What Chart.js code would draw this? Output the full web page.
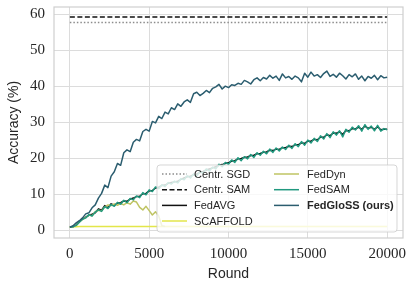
<!DOCTYPE html>
<html>
<head>
<meta charset="utf-8">
<script src="https://cdn.jsdelivr.net/npm/chart.js@4.4.1/dist/chart.umd.min.js"></script>
<style>
  html, body { margin: 0; padding: 0; background: #fff; }
  #wrap { width: 415px; height: 289px; }
</style>
</head>
<body>
<div id="wrap"><canvas id="accChart"></canvas></div>
<script>
// rounds are sampled every 200 communication rounds
const ROUND_STEP = 200;
const xTicks = [0, 5000, 10000, 15000, 20000];
const yTicks = [0, 10, 20, 30, 40, 50, 60];

// centralized baselines (flat reference lines)
const centrRounds = [0, 20000];
const centrSgdAcc = [57.7, 57.7];
const centrSamAcc = [59.2, 59.2];

const fedglossAcc = [
  0.8, 1.2, 2.0, 2.6, 3.4, 4.5, 4.8, 6.2, 7.0, 8.9,
  10.2, 12.5, 11.8, 15.0, 16.2, 18.5, 18.0, 21.5, 22.3, 21.8,
  24.4, 25.2, 24.8, 27.4, 28.0, 27.5, 30.2, 29.8, 31.6, 31.0,
  32.8, 32.3, 34.0, 33.5, 35.1, 34.4, 35.6, 36.2, 35.5, 37.9,
  38.3, 37.4, 38.0, 38.8, 38.2, 39.4, 39.8, 40.5, 39.2, 40.0,
  39.6, 40.4, 40.2, 40.8, 40.5, 41.6, 41.2, 40.6, 41.8, 42.3,
  41.5, 42.4, 42.0, 43.0, 42.2, 42.8, 41.6, 43.4, 42.3, 42.7,
  41.9, 42.8, 42.3, 41.2, 43.6, 42.5, 43.9, 42.8, 43.2, 42.4,
  43.5, 44.2, 42.7, 43.3, 42.5, 43.6, 42.9, 42.0, 43.2, 42.6,
  43.4, 41.9, 42.8, 41.5, 42.7, 42.2, 43.0, 41.8, 42.9, 42.3,
  42.5
];

const fedsamAcc = [
  0.8, 0.9, 1.3, 2.2, 3.0, 3.4, 4.3, 3.9, 5.0, 5.6,
  5.2, 6.5, 6.0, 7.1, 6.6, 7.7, 7.2, 8.3, 7.6, 8.8,
  8.4, 9.5, 9.0, 10.4, 9.8, 11.2, 10.7, 12.0, 11.5, 12.6,
  12.1, 13.2, 12.8, 13.6, 13.1, 14.3, 14.0, 15.1, 14.5, 15.6,
  15.0, 16.3, 15.8, 17.0, 16.4, 17.5, 17.0, 18.3, 17.6, 18.8,
  18.3, 19.5, 18.8, 20.1, 19.3, 20.4, 19.8, 21.0, 20.2, 21.5,
  20.8, 21.9, 21.2, 22.5, 21.6, 22.8, 22.0, 23.1, 22.4, 23.6,
  22.7, 24.0, 23.2, 24.6, 23.6, 25.0, 24.2, 25.5, 24.6, 26.2,
  25.3, 26.8, 25.7, 27.3, 26.4, 27.6, 25.9, 28.0, 27.2, 28.6,
  27.8, 29.0, 27.5, 29.3, 28.0, 28.9, 27.6, 29.1, 27.5, 28.2,
  27.9
];

const fedavgAcc = [
  0.8, 0.9, 1.4, 2.4, 3.1, 3.6, 4.1, 4.4, 4.8, 5.9,
  5.5, 6.8, 6.2, 7.3, 6.9, 7.5, 7.6, 8.1, 8.0, 8.6,
  8.9, 9.3, 9.4, 10.1, 10.2, 10.9, 11.0, 11.7, 11.9, 12.4,
  12.5, 13.0, 13.2, 13.4, 13.6, 14.1, 14.5, 14.8, 15.0, 15.4,
  15.6, 16.0, 16.3, 16.7, 17.0, 17.3, 17.6, 18.0, 18.2, 18.5,
  18.7, 19.2, 19.3, 19.8, 19.9, 20.2, 20.3, 20.7, 20.8, 21.2,
  21.3, 21.6, 21.7, 22.2, 22.1, 22.5, 22.4, 22.9, 22.9, 23.3,
  23.2, 23.7, 23.7, 24.3, 24.1, 24.7, 24.7, 25.2, 25.1, 25.8,
  25.8, 26.5, 26.2, 27.0, 26.9, 27.3, 26.6, 27.7, 27.6, 28.2,
  28.1, 28.6, 28.0, 28.9, 28.3, 28.6, 28.0, 28.7, 27.9, 28.0,
  28.0
];

// FedDyn collapses after ~6000 rounds
const feddynAcc = [
  0.8, 0.9, 1.3, 2.3, 3.0, 3.5, 4.2, 4.0, 5.1, 5.5,
  5.4, 6.4, 7.0, 6.8, 7.3, 6.9, 7.4, 7.0, 7.6, 7.2,
  8.1, 7.8, 6.3, 5.6, 6.6, 5.4, 4.2, 5.1, 3.9, 1.2,
  1.0
];

const scaffoldRounds = [0, 200, 400, 600, 20000];
const scaffoldAcc = [0.8, 0.9, 0.95, 1.0, 1.0];

const colors = {
  sgd: '#8c8c8c',
  sam: '#111111',
  avg: '#111111',
  scaffold: '#e3e64a',
  feddyn: '#bfc463',
  fedsam: '#21997f',
  fedgloss: '#2b5d6f'
};

function stepped(vals) {
  return vals.map((v, i) => ({ x: i * ROUND_STEP, y: v }));
}
function paired(xs, ys) {
  return xs.map((x, i) => ({ x: x, y: ys[i] }));
}

const tickFont = { family: "'Liberation Serif', 'DejaVu Serif', serif", size: 15 };
const labelFont = { family: "'Liberation Sans', Arial, sans-serif", size: 14 };
const textColor = '#262626';
const gridColor = '#dcdcdc';

// matplotlib-ish frame around the plot area
const framePlugin = {
  id: 'frame',
  beforeDatasetsDraw(chart) {
    const a = chart.chartArea, ctx = chart.ctx;
    ctx.save();
    ctx.strokeStyle = '#cfcfcf';
    ctx.lineWidth = 1.2;
    ctx.strokeRect(a.left, a.top, a.right - a.left, a.bottom - a.top);
    ctx.restore();
  }
};

// legend inside the axes with a translucent box (lines show through a bit)
const legendItems = [
  { label: 'Centr. SGD', color: colors.sgd, dash: [1.5, 2], col: 0, row: 0 },
  { label: 'Centr. SAM', color: colors.sam, dash: [5, 2.5], col: 0, row: 1 },
  { label: 'FedAVG', color: colors.avg, dash: [], col: 0, row: 2 },
  { label: 'SCAFFOLD', color: colors.scaffold, dash: [], col: 0, row: 3 },
  { label: 'FedDyn', color: colors.feddyn, dash: [], col: 1, row: 0 },
  { label: 'FedSAM', color: colors.fedsam, dash: [], col: 1, row: 1 },
  { label: 'FedGloSS (ours)', color: colors.fedgloss, dash: [], col: 1, row: 2, bold: true }
];

const boxLegendPlugin = {
  id: 'boxLegend',
  afterDatasetsDraw(chart) {
    const ctx = chart.ctx;
    const bx = 157, by = 165, bw = 240, bh = 67;
    ctx.save();
    ctx.beginPath();
    ctx.roundRect(bx, by, bw, bh, 3);
    ctx.fillStyle = 'rgba(255,255,255,0.8)';
    ctx.fill();
    ctx.strokeStyle = 'rgba(204,204,204,0.8)';
    ctx.lineWidth = 1;
    ctx.stroke();

    const colX = [162, 274];
    const textX = [194, 307];
    const rowY = [174, 189.7, 205.4, 221];
    ctx.textBaseline = 'middle';
    legendItems.forEach(it => {
      const y = rowY[it.row];
      ctx.beginPath();
      ctx.setLineDash(it.dash);
      ctx.strokeStyle = it.color;
      ctx.lineWidth = 1.5;
      ctx.moveTo(colX[it.col], y);
      ctx.lineTo(colX[it.col] + 25, y);
      ctx.stroke();
      ctx.setLineDash([]);
      ctx.fillStyle = textColor;
      ctx.font = (it.bold ? 'bold ' : '') + "11px 'Liberation Sans', Arial, sans-serif";
      ctx.fillText(it.label, textX[it.col], y + 0.5);
    });
    ctx.restore();
  }
};

function line(label, data, color, dash, width) {
  return {
    label: label,
    data: data,
    borderColor: color,
    backgroundColor: color,
    borderWidth: width || 1.5,
    borderDash: dash || [],
    pointRadius: 0,
    tension: 0,
    fill: false,
    borderJoinStyle: 'round'
  };
}

new Chart(document.getElementById('accChart'), {
  type: 'line',
  data: {
    // first dataset is drawn on top
    datasets: [
      line('FedGloSS (ours)', stepped(fedglossAcc), colors.fedgloss),
      line('FedSAM', stepped(fedsamAcc), colors.fedsam),
      line('FedDyn', stepped(feddynAcc), colors.feddyn),
      line('SCAFFOLD', paired(scaffoldRounds, scaffoldAcc), colors.scaffold),
      line('FedAVG', stepped(fedavgAcc), colors.avg),
      line('Centr. SAM', paired(centrRounds, centrSamAcc), colors.sam, [5, 2.5]),
      line('Centr. SGD', paired(centrRounds, centrSgdAcc), colors.sgd, [1.5, 2])
    ]
  },
  options: {
    responsive: true,
    maintainAspectRatio: false,
    animation: false,
    devicePixelRatio: 1,
    layout: { padding: { top: 7, right: 12, left: 0, bottom: 0 } },
    plugins: { legend: { display: false }, tooltip: { enabled: false } },
    scales: {
      x: {
        type: 'linear',
        min: -1000,
        max: 21000,
        afterBuildTicks: s => { s.ticks = xTicks.map(v => ({ value: v })); },
        afterFit: s => { s.height = 51; s.paddingLeft = 0; s.paddingRight = 0; },
        grid: { color: gridColor, lineWidth: 1, drawTicks: false },
        border: { display: false },
        ticks: { font: tickFont, color: textColor, padding: 7, maxRotation: 0,
                 callback: v => String(v) },
        title: { display: true, text: 'Round', font: labelFont, color: textColor,
                 padding: { top: 0, bottom: 6 } }
      },
      y: {
        type: 'linear',
        min: -2.2,
        max: 62,
        afterBuildTicks: s => { s.ticks = yTicks.map(v => ({ value: v })); },
        afterFit: s => { s.width = 54; s.paddingTop = 0; s.paddingBottom = 0; },
        grid: { color: gridColor, lineWidth: 1, drawTicks: false },
        border: { display: false },
        ticks: { font: tickFont, color: textColor, padding: 9,
                 callback: v => String(v) },
        title: { display: true, text: 'Accuracy (%)', font: labelFont, color: textColor,
                 padding: { top: 6, bottom: 0 } }
      }
    }
  },
  plugins: [framePlugin, boxLegendPlugin]
});
</script>
</body>
</html>
